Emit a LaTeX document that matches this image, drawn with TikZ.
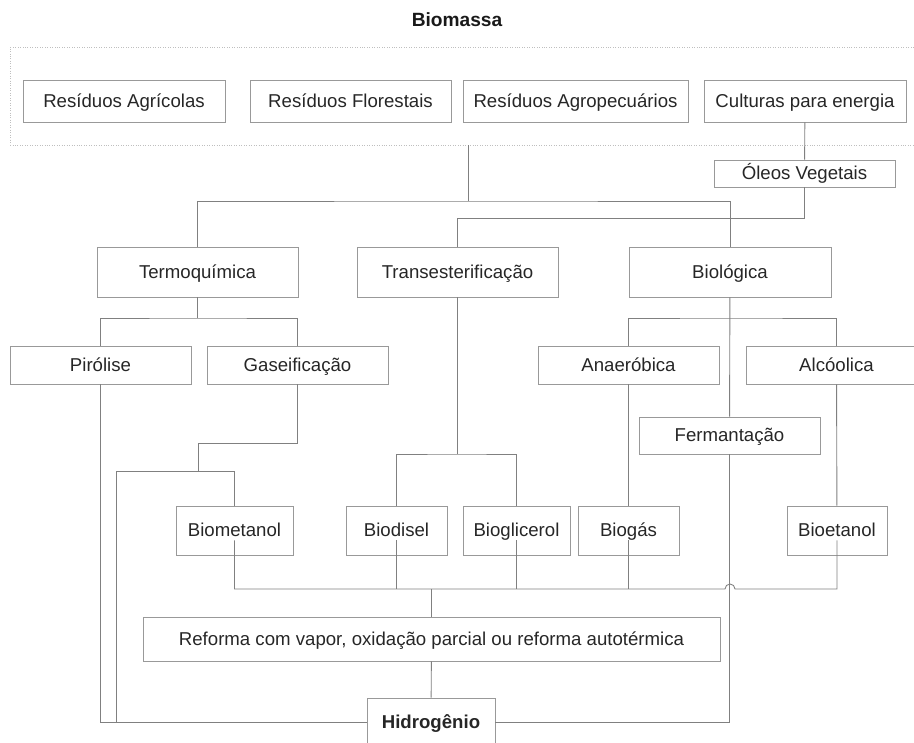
\documentclass[tikz,border=0pt]{standalone}
\usepackage{fontspec}
\setmainfont{Liberation Sans}
\begin{document}
\begin{tikzpicture}[x=0.02cm,y=-0.02cm,
    box/.style={draw=black!40,inner sep=0pt,text height=.72em,text depth=0pt,font=\fontsize{10.6}{12}\selectfont,text=black!85},
    link/.style={draw=black!50,line width=.5pt}]
    \useasboundingbox (0,0) rectangle (914,743);
    \node[font=\fontsize{10.9}{12}\selectfont\bfseries,text=black!90] (titulo) at (457,20) {Biomassa};
    \node[draw=black!25,densely dotted,minimum width=18.12cm,minimum height=1.96cm] (grupo) at (463,96) {};

    % fontes de biomassa
    \node[box,minimum width=4.04cm,minimum height=.84cm] (ra) at (124,101) {Resíduos Agrícolas};
    \node[box,minimum width=4.02cm,minimum height=.84cm] (rf) at (350.5,101) {Resíduos Florestais};
    \node[box,minimum width=4.5cm,minimum height=.84cm] (rp) at (575.5,101) {Resíduos Agropecuários};
    \node[box,minimum width=4.04cm,minimum height=.84cm] (ce) at (805,101) {Culturas para energia};
    \node[box,minimum width=3.62cm,minimum height=.54cm] (ol) at (804.5,173.5) {Óleos Vegetais};

    % rotas
    \node[box,minimum width=4.02cm,minimum height=1cm] (tq) at (197.5,272) {Termoquímica};
    \node[box,minimum width=4.02cm,minimum height=1cm] (tr) at (457.5,272) {Transesterificação};
    \node[box,minimum width=4.04cm,minimum height=1cm] (bi) at (730,272) {Biológica};

    \node[box,minimum width=3.62cm,minimum height=.76cm] (pi) at (100.5,365) {Pirólise};
    \node[box,minimum width=3.62cm,minimum height=.76cm] (ga) at (297.5,365) {Gaseificação};
    \node[box,minimum width=3.62cm,minimum height=.76cm] (an) at (628.5,365) {Anaeróbica};
    \node[box,minimum width=3.62cm,minimum height=.76cm] (al) at (836.5,365) {Alcóolica};
    \node[box,minimum width=3.62cm,minimum height=.74cm] (fe) at (729.5,435.5) {Fermantação};

    % produtos
    \node[box,minimum width=2.34cm,minimum height=.98cm] (bm) at (234.5,530.5) {Biometanol};
    \node[box,minimum width=2.02cm,minimum height=.98cm] (bd) at (396.5,530.5) {Biodisel};
    \node[box,minimum width=2.14cm,minimum height=.98cm] (bg) at (516.5,530.5) {Bioglicerol};
    \node[box,minimum width=2.02cm,minimum height=.98cm] (bs) at (628.5,530.5) {Biogás};
    \node[box,minimum width=2cm,minimum height=.98cm] (be) at (837,530.5) {Bioetanol};

    \node[box,minimum width=11.54cm,minimum height=.88cm] (re) at (431.5,639) {Reforma com vapor, oxidação parcial ou reforma autotérmica};
    \node[box,minimum width=2.56cm,minimum height=.96cm,font=\fontsize{10.6}{12}\selectfont\bfseries] (hy) at (431,722) {Hidrogênio};

    \coordinate (j1) at (468,201);
    \coordinate (gj) at (198,471);
    \coordinate (jmp) at (725,589);

    \draw[link] (grupo.south -| j1) -- (j1);
    \draw[link] (tq) |- (j1) -| (bi);
    \draw[link] (ce) -- (ol);
    \draw[link] (ol.south) -- ++(0,31) -| (tr);

    \draw[link] (tq) -- (tq.south |- 0,318);
    \draw[link] (pi) |- (tq.south |- 0,318) -| (ga);
    \draw[link] (an) |- (bi.south |- 0,318) -| (al);
    \draw[link] (bi) -- (fe);

    \draw[link] (pi) |- (hy);
    \draw[link] (ga) |- (gj |- 0,443) -- (gj);
    \draw[link] (bm) |- (gj -| 116,0) |- (hy);

    \draw[link] (tr) -- (tr.south |- 0,454);
    \draw[link] (bd) |- (tr.south |- 0,454) -| (bg);
    \draw[link] (an) -- (bs);
    \draw[link] (al) -- (be);

    \draw[link] ([yshift=-.2cm]bm.center) |- (jmp) arc[start angle=180,end angle=0,radius=.1cm] -| ([yshift=-.2cm]be.center);
    \foreach \n in {bd,bg,bs}
      \draw[link] ([yshift=-.2cm]\n.center) -- (\n |- 0,589);
    \draw[link] (re) -- (re.north |- 0,589);
    \draw[link] (fe) |- (hy);
    \draw[link] (re) -- (hy);
\end{tikzpicture}
\end{document}
